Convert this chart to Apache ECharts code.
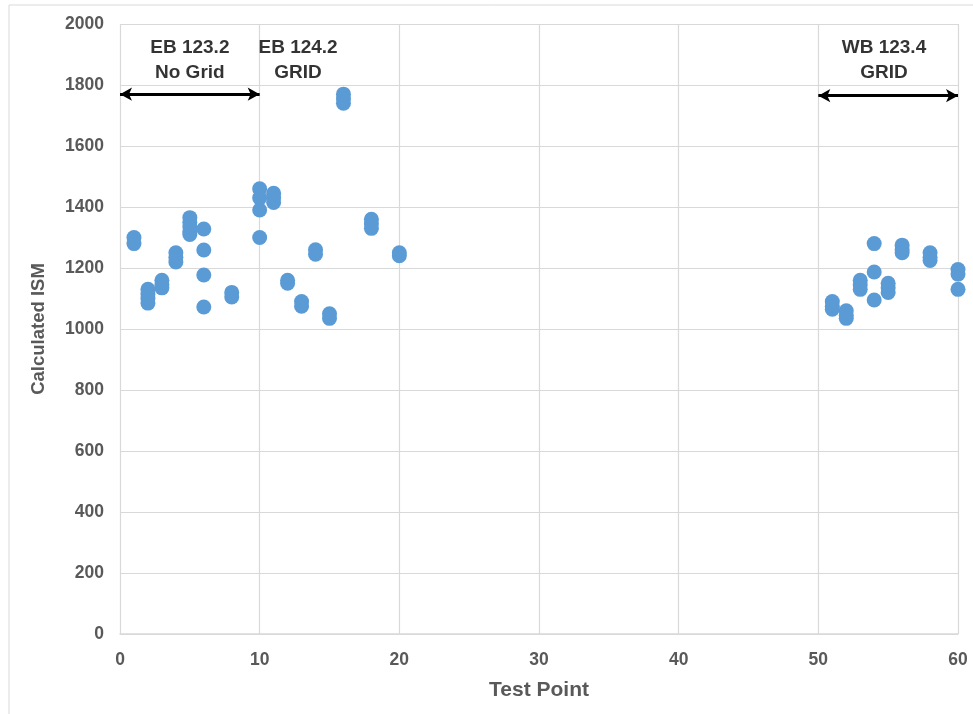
<!DOCTYPE html>
<html>
<head>
<meta charset="utf-8">
<script src="https://cdn.jsdelivr.net/npm/echarts@6/dist/echarts.min.js"></script>
<style>html,body{margin:0;padding:0;background:#fff;}#c{width:973px;height:714px;}</style>
</head>
<body>
<div id="c"></div>
<script>
// Test point (x) and calculated ISM (y) values
const testPoints = [1,1, 2,2,2,2, 3,3,3, 4,4,4, 5,5,5,5,5, 6,6,6,6, 8,8,
  10,10,10,10, 11,11,11, 12,12, 13,13, 14,14, 15,15, 16,16,16, 18,18,18, 20,20,
  51,51,51, 52,52,52, 53,53,53, 54,54,54, 55,55,55, 56,56,56, 58,58,58, 60,60,60];
const ismValues = [1300,1280, 1130,1115,1100,1085, 1160,1145,1135, 1250,1235,1220, 1365,1350,1335,1320,1310, 1328,1259,1177,1072, 1120,1105,
  1460,1430,1390,1300, 1445,1430,1415, 1160,1150, 1090,1075, 1260,1245, 1050,1035, 1770,1755,1740, 1360,1345,1330, 1250,1240,
  1090,1075,1065, 1060,1045,1035, 1160,1145,1130, 1280,1187,1095, 1150,1135,1120, 1275,1260,1250, 1250,1235,1225, 1195,1180,1130];

const annotX = [5, 12.75, 54.7];
const annotY = [1882, 1882, 1882];
const annotText = ['EB 123.2\nNo Grid', 'EB 124.2\nGRID', 'WB 123.4\nGRID'];

const arrowStart = [[0,1770],[50,1765]];
const arrowEnd = [[10,1770],[60,1765]];

const xTicks = [0,10,20,30,40,50,60];
const yTicks = [0,200,400,600,800,1000,1200,1400,1600,1800,2000];

const points = testPoints.map((x,i)=>[x, ismValues[i]]);
const annots = annotX.map((x,i)=>[x, annotY[i], annotText[i]]);

const chart = echarts.init(document.getElementById('c'));
const font = 'Liberation Sans, Arial, sans-serif';
chart.setOption({
  animation: false,
  backgroundColor: '#fff',
  graphic: [{type:'rect', shape:{x:9, y:5, width:970, height:720}, style:{fill:'none', stroke:'#d9d9d9', lineWidth:1}, silent:true}],
  grid: {left:120, right:15, top:24, bottom:80},
  xAxis: {
    type:'value', min:xTicks[0], max:xTicks[xTicks.length-1], interval:10,
    name:'Test Point', nameLocation:'middle', nameGap:46,
    nameTextStyle:{fontFamily:font, fontSize:21, fontWeight:'bold', color:'#595959'},
    axisLine:{show:true, lineStyle:{color:'#d9d9d9', width:1.5}},
    axisTick:{show:false},
    axisLabel:{fontFamily:font, fontSize:17.5, color:'#595959', fontWeight:'bold', margin:17},
    splitLine:{show:true, lineStyle:{color:'#d9d9d9', width:1.2}}
  },
  yAxis: {
    type:'value', min:yTicks[0], max:yTicks[yTicks.length-1], interval:200,
    name:'Calculated ISM', nameLocation:'middle', nameGap:72,
    nameTextStyle:{fontFamily:font, fontSize:18.5, fontWeight:'bold', color:'#595959'},
    axisLine:{show:false},
    axisTick:{show:false},
    axisLabel:{fontFamily:font, fontSize:17.5, color:'#595959', fontWeight:'bold', margin:16, formatter:v=>String(v)},
    splitLine:{show:true, lineStyle:{color:'#d9d9d9', width:1.2}}
  },
  series: [
    {
      type:'scatter', data:points, symbolSize:15,
      itemStyle:{color:'#5b9bd5', opacity:1},
      markLine: {
        silent:true, symbol:['arrow','arrow'], symbolSize:[10,12],
        label:{show:false},
        lineStyle:{color:'#000', width:3, type:'solid'},
        data: arrowStart.map((s,i)=>[{coord:s},{coord:arrowEnd[i]}])
      }
    },
    {
      type:'scatter', data:annots, symbolSize:0,
      label:{show:true, position:'inside', formatter:p=>p.value[2],
        fontFamily:font, fontSize:19, fontWeight:'bold', color:'#000', lineHeight:25, align:'center'}
    }
  ]
});
</script>
</body>
</html>
